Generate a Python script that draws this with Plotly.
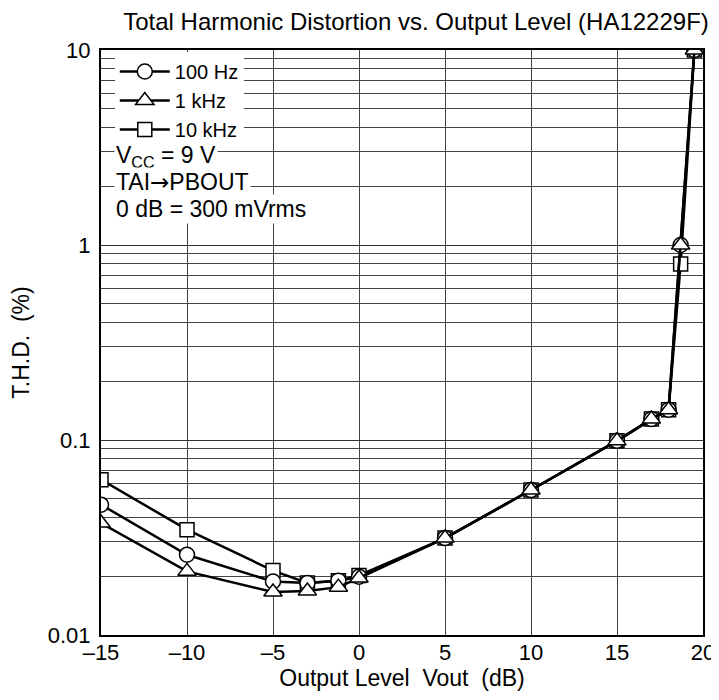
import plotly.graph_objects as go

# ---- data ----
x_100 = [-15, -10, -5, -3, -1.2, 0, 5, 10, 15, 17, 18, 18.7, 19.5]
thd_100 = [0.0466, 0.0258, 0.0188, 0.0185, 0.0190, 0.0199, 0.0314, 0.0554, 0.099, 0.128, 0.143, 1.0, 10.0]

x_1k = [-15, -10, -5, -3, -1.2, 0, 5, 10, 15, 17, 18, 18.7, 19.5]
thd_1k = [0.0375, 0.0212, 0.0166, 0.0168, 0.0176, 0.0196, 0.0314, 0.0554, 0.099, 0.128, 0.143, 1.0, 10.0]

x_10k = [-15, -10, -5, -3, -1.2, 0, 5, 10, 15, 17, 18, 18.7, 19.5]
thd_10k = [0.0626, 0.0347, 0.0214, 0.0185, 0.0190, 0.0202, 0.0314, 0.0554, 0.099, 0.128, 0.143, 0.80, 10.0]

x_ticks = [-15, -10, -5, 0, 5, 10, 15, 20]
x_tick_labels = ["\u201315", "\u201310", "\u20135", "0", "5", "10", "15", "20"]
y_ticks = [0.01, 0.1, 1, 10]
y_tick_labels = ["0.01", "0.1", "1", "10"]
y_minor = [m * d for d in (0.01, 0.1, 1) for m in range(2, 10)]

title_text = "Total Harmonic Distortion vs. Output Level (HA12229F)"
x_title = "Output Level  Vout  (dB)"
y_title = "T.H.D.  (%)"
notes = [
    "V<sub>CC</sub> = 9 V",
    "TAI<span style=\"font-family:DejaVu Sans\">\u2192</span>PBOUT",
    "0 dB = 300 mVrms",
]

FONT = "Liberation Sans, Arial, sans-serif"

fig = go.Figure()

series = [
    ("10 kHz", x_10k, thd_10k, "square", 3, 14),
    ("100 Hz", x_100, thd_100, "circle", 1, 15),
    ("1 kHz", x_1k, thd_1k, "triangle-up", 2, 16),
]
for name, xs, ys, sym, rank, sz in series:
    fig.add_trace(go.Scatter(
        x=xs, y=ys, name=name, mode="lines+markers",
        line=dict(color="black", width=2.5),
        marker=dict(symbol=sym, size=sz,
                    color="white", line=dict(color="black", width=1.5)),
        legendrank=rank,
    ))

W, H = 719, 700
L, R, T, B = 92, 16, 42, 73
pw, ph = W - L - R, H - T - B

def px_x(px):
    return (px - L) / pw

def px_y(py):
    return (H - B - py) / ph

for txt, py in zip(notes, [148, 174, 201]):
    fig.add_annotation(
        text=txt, xref="paper", yref="paper",
        x=px_x(105), y=px_y(py),
        xanchor="left", yanchor="middle", showarrow=False,
        font=dict(size=23, color="black", family=FONT),
        bgcolor="white", borderpad=1,
    )

fig.update_layout(
    width=W, height=H,
    margin=dict(l=L, r=R, t=T, b=B),
    paper_bgcolor="white", plot_bgcolor="white",
    font=dict(family=FONT, color="black", size=22),
    title=dict(text=title_text, x=408 / W, xanchor="center",
               y=1 - 14 / H, yanchor="middle",
               font=dict(size=24, family=FONT, color="black")),
    showlegend=True,
    legend=dict(
        x=px_x(106), y=px_y(44), xanchor="left", yanchor="top",
        bgcolor="white", borderwidth=0, itemwidth=50,
        font=dict(size=20, family=FONT, color="black"),
        traceorder="normal",
    ),
    xaxis=dict(
        range=[-15, 20], tickvals=x_ticks, ticktext=x_tick_labels,
        showgrid=True, gridcolor="#444", gridwidth=1,
        showline=True, linecolor="black", linewidth=2, mirror=True,
        ticks="", zeroline=False, ticklabelstandoff=-3,
        title=dict(text=x_title, font=dict(size=23, family=FONT), standoff=4),
        tickfont=dict(size=22, family=FONT),
    ),
    yaxis=dict(
        type="log", range=[-2, 1], tickvals=y_ticks, ticktext=y_tick_labels,
        showgrid=True, gridcolor="#333", gridwidth=1,
        showline=True, linecolor="black", linewidth=2, mirror=True,
        ticks="", zeroline=False, ticklabelstandoff=4,
        minor=dict(tickvals=y_minor, showgrid=True, gridcolor="#444", gridwidth=1, ticks=""),
        title=dict(text=y_title, font=dict(size=23, family=FONT), standoff=12),
        tickfont=dict(size=22, family=FONT),
    ),
)

fig.write_html("out.html")
